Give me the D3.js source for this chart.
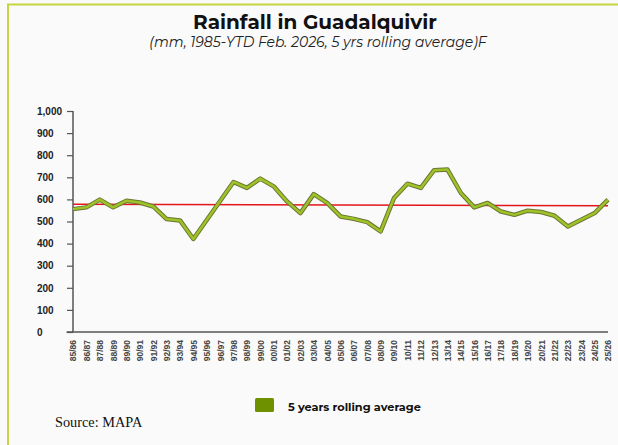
<!DOCTYPE html>
<html>
<head>
<meta charset="utf-8">
<script src="https://cdn.jsdelivr.net/npm/d3@7"></script>
<style>
  body { margin: 0; background: #fafafa; }
  svg { display: block; }
</style>
</head>
<body>
<svg id="chart"></svg>
<script>
// seasons 85/86 .. 25/26
let seasons = ["85/86","86/87","87/88","88/89","89/90","90/91","91/92","92/93","93/94","94/95",
  "95/96","96/97","97/98","98/99","99/00","00/01","01/02","02/03","03/04","04/05",
  "05/06","06/07","07/08","08/09","09/10","10/11","11/12","12/13","13/14","14/15",
  "15/16","16/17","17/18","18/19","19/20","20/21","21/22","22/23","23/24","24/25","25/26"];

// 5 yrs rolling average, mm
let rolling = [556, 564, 599, 564, 594, 586, 568, 511, 505, 421,
  507, 593, 679, 652, 694, 659, 591, 538, 624, 584,
  523, 512, 497, 455, 606, 671, 652, 732, 735, 629,
  564, 584, 545, 530, 549, 543, 526, 477, 508, 538, 599];

// linear trend, first and last season
let trend = [578, 571];

let yTicks = [0, 100, 200, 300, 400, 500, 600, 700, 800, 900, 1000];

let w = 618;
let h = 445;

let svg = d3.select('#chart').attr('width', w).attr('height', h);

svg.append('rect').attr('width', w).attr('height', h).attr('fill', '#fafafa');

// frame: top and left only
svg.append('line').attr('x1', 7).attr('x2', w).attr('y1', 4.5).attr('y2', 4.5)
   .attr('stroke', '#c6d640').attr('stroke-width', 2);
svg.append('line').attr('x1', 8).attr('x2', 8).attr('y1', 4).attr('y2', h)
   .attr('stroke', '#c6d640').attr('stroke-width', 2);

svg.append('text').attr('x', 315).attr('y', 29)
   .attr('text-anchor', 'middle')
   .style('font-family', "Montserrat, 'Noto Sans', sans-serif")
   .style('font-weight', 'bold').style('font-size', '20px').style('fill', '#111')
   .text('Rainfall in Guadalquivir');

svg.append('text').attr('x', 318).attr('y', 47)
   .attr('text-anchor', 'middle')
   .style('font-family', "Montserrat, 'Noto Sans', sans-serif")
   .style('font-style', 'italic').style('font-size', '14px').style('fill', '#222')
   .text('(mm, 1985-YTD Feb. 2026, 5 yrs rolling average)F');

let xSc = d3.scalePoint().domain(seasons).range([73, 608]);
let ySc = d3.scaleLinear().domain([0, 1000]).range([332, 111]);

// y axis
let yAxis = d3.axisLeft(ySc).tickValues(yTicks).tickSize(6).tickFormat(d3.format(','));
let gy = svg.append('g').attr('transform', 'translate(73,0)').call(yAxis);
gy.select('.domain').attr('stroke', '#555').attr('stroke-width', 1.5).attr('d', 'M0,111V332');
gy.selectAll('.tick line').attr('stroke', '#555').attr('stroke-width', 1.2);
gy.selectAll('.tick text')
  .attr('x', -36).attr('text-anchor', 'start')
  .style('font-family', "'Liberation Sans', Arial, sans-serif")
  .style('font-weight', 'bold').style('font-size', '10px').style('fill', '#222');

// x axis
let xAxis = d3.axisBottom(xSc).tickSize(0).tickPadding(0);
let gx = svg.append('g').attr('transform', 'translate(0,332)').call(xAxis);
gx.select('.domain').attr('stroke', '#555').attr('stroke-width', 1.5).attr('d', 'M66.5,0H608');
gx.selectAll('.tick text')
  .attr('transform', 'rotate(-90)')
  .attr('x', -8).attr('y', 0).attr('dy', '0.35em')
  .attr('text-anchor', 'end')
  .style('font-family', "'Liberation Sans', Arial, sans-serif")
  .style('font-weight', 'bold').style('font-size', '8.5px').style('fill', '#444');

// trend
svg.append('line')
   .attr('x1', xSc(seasons[0])).attr('x2', xSc(seasons[seasons.length - 1]))
   .attr('y1', ySc(trend[0])).attr('y2', ySc(trend[1]))
   .attr('stroke', '#e3161b').attr('stroke-width', 1.5);

// rolling average line
let line = d3.line().x((d, i) => xSc(seasons[i])).y(d => ySc(d));
svg.append('path').datum(rolling).attr('d', line)
   .attr('fill', 'none').attr('stroke', '#6f7436').attr('stroke-width', 4.5)
   .attr('stroke-linejoin', 'round');
svg.append('path').datum(rolling).attr('d', line)
   .attr('fill', 'none').attr('stroke', '#9cc426').attr('stroke-width', 2.5)
   .attr('stroke-linejoin', 'round');

// legend
svg.append('rect').attr('x', 255).attr('y', 398).attr('width', 19).attr('height', 14)
   .attr('rx', 1.5).attr('fill', '#6e9100');
svg.append('text').attr('x', 288).attr('y', 410.5)
   .style('font-family', "Montserrat, 'Noto Sans', sans-serif")
   .style('font-weight', 'bold').style('font-size', '11.3px').style('fill', '#111')
   .text('5 years rolling average');

svg.append('text').attr('x', 55).attr('y', 427)
   .style('font-family', "Garamond, 'Liberation Serif', serif")
   .style('font-size', '14.3px').style('fill', '#111')
   .text('Source: MAPA');
</script>
</body>
</html>
